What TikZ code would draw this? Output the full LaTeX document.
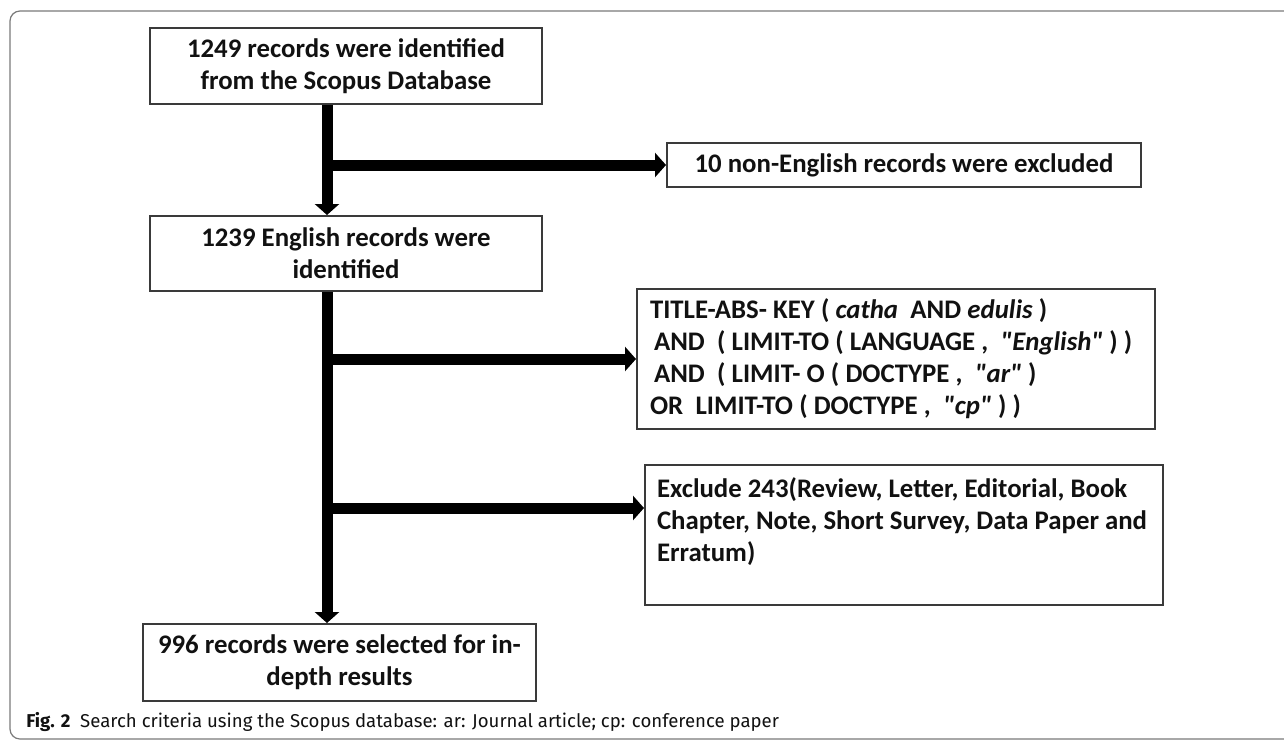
\documentclass[tikz,border=0pt]{standalone}
\usepackage{fontspec}
\setmainfont{Carlito}
\newfontfamily\capfont{Fira Sans}
\usetikzlibrary{arrows.meta,positioning,calc}
\definecolor{ink}{HTML}{111111}
\definecolor{edge}{HTML}{3A3A3A}
\definecolor{rim}{HTML}{7A7A7A}
\newcommand{\qt}[1]{\textit{\textquotedbl#1\textquotedbl}}
\tikzset{
  box/.style={draw=edge,line width=1pt,fill=white,inner sep=0pt,align=center,text=ink,font=\bfseries\fontsize{13.4}{16}\selectfont},
  boxl/.style={box,align=left,inner xsep=6.5pt,text width=246pt},
  fat/.style={-{Triangle[length=5.5pt,width=12pt]},draw=black,line width=5.5pt},
  rimline/.style={draw=rim,line width=.6pt,rounded corners=5pt},
  captext/.style={anchor=west,inner sep=0pt,text=ink,font=\capfont\fontsize{9.3}{11}\selectfont},
}

\begin{document}
\begin{tikzpicture}[x=0.5pt,y=-0.5pt]
\useasboundingbox (0,0) rectangle (1284,740);
\begin{scope}
\clip (0,0) rectangle (1284,740);
\draw[rimline] (10,11) rectangle (1310,739);
\end{scope}
% main column
\node[box,minimum width=196pt,minimum height=38pt] (found) at (346,66) {1249 records were identified\\from the Scopus Database};
\node[box,minimum width=196pt,minimum height=37.5pt] (english) at (346,253.5) {1239 English records were\\identified};
\node[box,minimum width=196.5pt,minimum height=38.5pt] (selected) at (339.5,662.5) {996 records were selected for in-\\depth results};
% side boxes
\node[box,minimum width=237pt,minimum height=22pt] (nonen) at (904,165) {10 non-English records were excluded};
\node[boxl,minimum height=70pt] (query) at (896,359) {\spaceskip=3.1pt\relax
TITLE-ABS- KEY ( \textit{catha}\ \ AND \textit{edulis} )\\
\hspace{2pt}AND\ \ ( LIMIT-TO ( LANGUAGE ,\ \ \qt{English} ) )\\
\hspace{2pt}AND\ \ ( LIMIT- O ( DOCTYPE ,\ \ \qt{ar} )\\
OR\ \ LIMIT-TO ( DOCTYPE ,\ \ \qt{cp} ) )};
\node[box,inner xsep=6pt,inner ysep=5pt] (excl) at (904,535) {\parbox[c][60pt][t]{247pt}{\raggedright\strut Exclude 243(Review, Letter, Editorial, Book\\Chapter, Note, Short Survey, Data Paper and\\Erratum)}};
% connectors
\coordinate (sx) at (327,0);
\coordinate (j3) at (327,508);
\draw[fat] (found.south -| sx) -- (english.north -| sx);
\draw[fat] (english.south -| sx) -- (selected.north -| sx);
\draw[fat] (nonen.west -| sx) -- (nonen.west);
\draw[fat] (query.west -| sx) -- (query.west);
\draw[fat] (j3) -- (j3 -| excl.west);
% caption
\node[captext] (caption) at (26,722) {\textbf{Fig. 2}\ \ Search criteria using the Scopus database: ar: Journal article; cp: conference paper};
\end{tikzpicture}
\end{document}
